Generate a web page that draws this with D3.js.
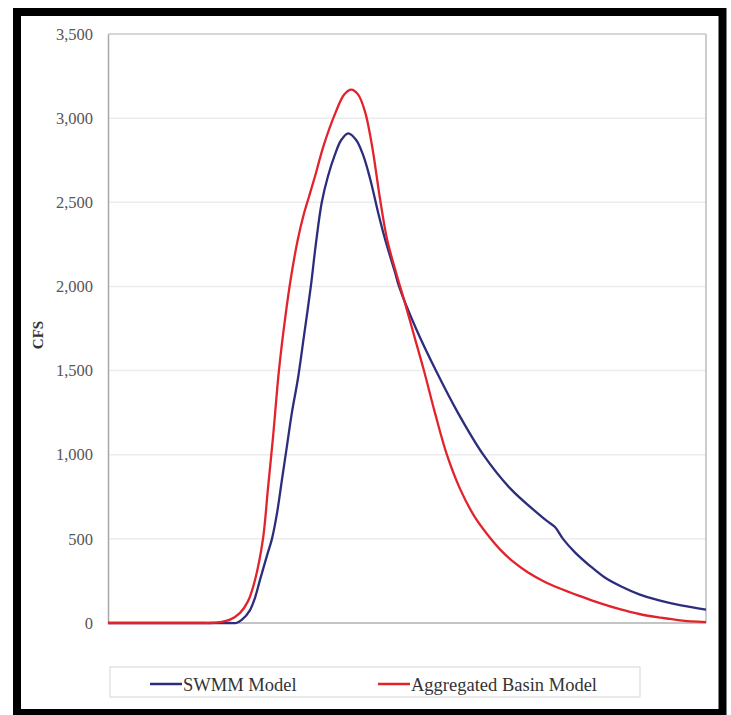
<!DOCTYPE html>
<html><head><meta charset="utf-8">
<script src="https://cdn.jsdelivr.net/npm/d3@7"></script>
<style>body{margin:0;background:#fff}svg{display:block}</style>
</head><body>
<script>
// time step (arbitrary units, 0-120) and flow in CFS
const swmmTime = [0,12,22,24.5,25.7,26.9,28.5,29.5,30.5,31.9,32.9,33.9,34.9,35.9,36.9,38.1,39.3,40.7,41.7,42.9,44.1,45.5,46.8,48.2,49.8,51.2,52.6,54.2,55.6,57.6,58.4,61.8,65.8,70.2,75.3,80.7,87.8,89.7,91.3,93.7,96.7,99.7,103.1,106.6,110.6,115.0,120];
const swmmFlow = [0,0,0,0,0,20,77,150,256,400,500,650,850,1050,1250,1450,1700,2000,2250,2500,2650,2780,2870,2910,2870,2780,2640,2440,2280,2083,2000,1750,1500,1250,1000,800,613,570,500,420,340,270,215,170,135,105,80];
const aggTime = [0,10,17,19.3,20.5,22.5,24.5,26.5,28.1,29.5,31.1,32.1,33.1,34.3,35.5,36.7,38.1,39.3,40.3,41.5,43.3,45.7,47.4,48.8,50.2,51.6,53.0,54.0,54.6,56.0,57.8,59.8,61.6,63.4,65.6,68.0,70.6,73.4,76.3,78.9,81.5,84.3,87.3,90.7,94.7,98.7,102.7,106.8,110.8,114.8,120];
const aggFlow = [0,0,0,0,0,5,20,60,130,256,500,800,1100,1500,1800,2050,2280,2430,2530,2650,2840,3036,3140,3170,3140,3036,2833,2637,2518,2280,2083,1880,1690,1500,1250,1000,800,640,520,430,360,300,250,205,160,118,82,52,32,16,5];
const yTicks = [0,500,1000,1500,2000,2500,3000,3500];
const seriesNames = ["SWMM Model","Aggregated Basin Model"];
const seriesColors = ["#2c2d7c","#e3232c"];

const W = 731, H = 715;
const svg = d3.select("body").append("svg").attr("width", W).attr("height", H);
const x = d3.scaleLinear().domain([0,120]).range([108,706]);
const y = d3.scaleLinear().domain([0,3500]).range([623,34]);

// outer black frame
svg.append("rect").attr("x",17).attr("y",12).attr("width",705.5).attr("height",701)
  .attr("fill","none").attr("stroke","#000").attr("stroke-width",8);

// gridlines
svg.append("g").selectAll("line").data(yTicks.filter(d=>d>0)).join("line")
  .attr("x1",108).attr("x2",706).attr("y1",d=>y(d)).attr("y2",d=>y(d))
  .attr("stroke", d=> d===3500 ? "#c8c8c8" : "#ececec").attr("stroke-width",1.5);
// right border
svg.append("line").attr("x1",706).attr("x2",706).attr("y1",y(3500)).attr("y2",y(0))
  .attr("stroke","#bdbdbd").attr("stroke-width",1.5);

// y axis
const yAxis = d3.axisLeft(y).tickValues(yTicks).tickSize(0).tickPadding(15)
  .tickFormat(d3.format(","));
const gy = svg.append("g").attr("transform","translate(108,0)").call(yAxis);
gy.select(".domain").attr("stroke","#a8a8a8").attr("stroke-width",1.5);
gy.selectAll("text").attr("font-family","'Liberation Serif', serif").attr("font-size",16.5)
  .attr("fill","#555");
// x axis line at 0
svg.append("line").attr("x1",108).attr("x2",706).attr("y1",y(0)).attr("y2",y(0))
  .attr("stroke","#b0b0b0").attr("stroke-width",1.5);

svg.append("text").attr("transform","translate(43,335) rotate(-90)")
  .attr("text-anchor","middle").attr("font-family","'Liberation Serif', serif")
  .attr("font-weight","bold").attr("font-size",15).attr("fill","#333").text("CFS");

const line = d3.line().x(d=>x(d[0])).y(d=>y(d[1])).curve(d3.curveCatmullRom.alpha(0.5));
const data = [d3.zip(swmmTime, swmmFlow), d3.zip(aggTime, aggFlow)];
svg.append("path").datum(data[0]).attr("d",line).attr("fill","none")
  .attr("stroke",seriesColors[0]).attr("stroke-width",2.3);
svg.append("path").datum(data[1]).attr("d",line).attr("fill","none")
  .attr("stroke",seriesColors[1]).attr("stroke-width",2.3);

// legend
svg.append("rect").attr("x",110).attr("y",667).attr("width",530).attr("height",30)
  .attr("fill","#fff").attr("stroke","#dcdcdc").attr("stroke-width",1.2);
const legX = [150, 378];
seriesNames.forEach((n,i)=>{
  svg.append("line").attr("x1",legX[i]).attr("x2",legX[i]+32).attr("y1",684).attr("y2",684)
    .attr("stroke",seriesColors[i]).attr("stroke-width",2.5);
  svg.append("text").attr("x",legX[i]+33).attr("y",690.5)
    .attr("font-family","'Liberation Serif', serif").attr("font-size",18.5).attr("fill","#333").text(n);
});
</script>
</body></html>
